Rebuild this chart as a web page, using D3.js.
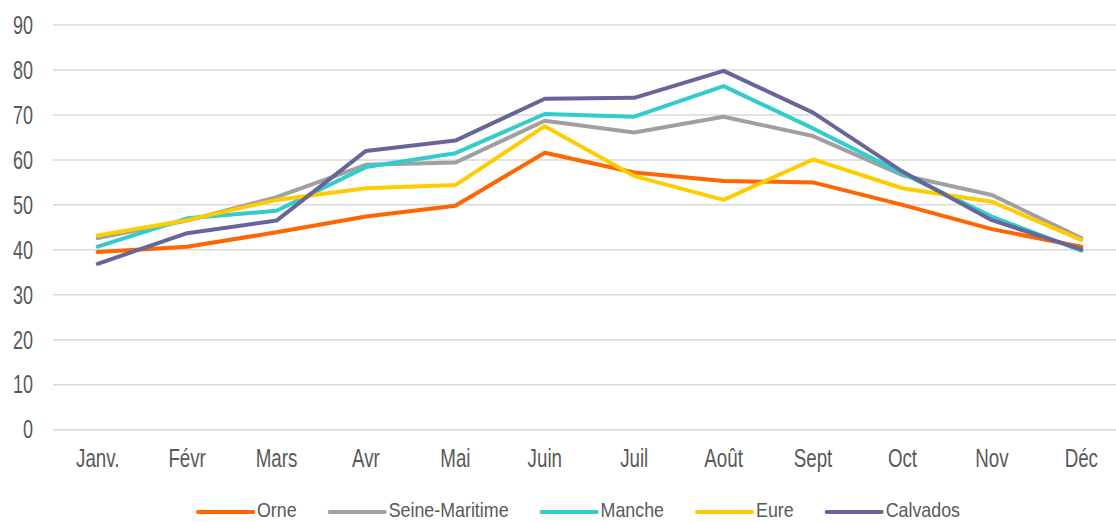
<!DOCTYPE html>
<html>
<head>
<meta charset="utf-8">
<script src="https://cdn.jsdelivr.net/npm/d3@7"></script>
<style>
  body { margin: 0; background: #fff; }
  svg text { font-family: "Liberation Sans Narrow", "Arial Narrow", "Liberation Sans", sans-serif; fill: #595959; }
</style>
</head>
<body>
<div id="chart"></div>
<script>
// months on the x axis
const months = ["Janv.", "Févr", "Mars", "Avr", "Mai", "Juin", "Juil", "Août", "Sept", "Oct", "Nov", "Déc"];
const yTicks = [0, 10, 20, 30, 40, 50, 60, 70, 80, 90];

// values per département
const orne = [39.5, 40.7, 43.9, 47.4, 49.8, 61.6, 57.2, 55.3, 55.0, 50.0, 44.6, 40.7];
const seineMaritime = [42.6, 46.5, 51.7, 58.9, 59.4, 68.7, 66.1, 69.6, 65.3, 56.6, 52.2, 42.6];
const manche = [40.7, 47.0, 48.7, 58.4, 61.5, 70.2, 69.6, 76.4, 67.0, 57.0, 47.4, 39.8];
const eure = [43.2, 46.6, 51.1, 53.7, 54.4, 67.5, 56.4, 51.1, 60.1, 53.7, 50.7, 42.2];
const calvados = [36.9, 43.7, 46.5, 62.0, 64.3, 73.6, 73.8, 79.8, 70.5, 57.4, 46.6, 40.1];

const seriesNames = ["Orne", "Seine-Maritime", "Manche", "Eure", "Calvados"];
const seriesColors = ["#ff6600", "#a0a0a0", "#33cccc", "#ffcc00", "#666699"];

const series = [orne, seineMaritime, manche, eure, calvados].map((vals, i) => ({
    name: seriesNames[i],
    color: seriesColors[i],
    values: vals
}));

const width = 1116;
const height = 522;

const svg = d3.select("#chart")
    .append("svg")
    .attr("width", width)
    .attr("height", height);

const x = d3.scalePoint()
    .domain(months)
    .range([53, 1126])
    .padding(0.5);

const y = d3.scaleLinear()
    .domain([0, 90])
    .range([429.7, 25]);

// gridlines
svg.append("g")
    .selectAll("line")
    .data(yTicks)
    .enter()
    .append("line")
    .attr("x1", 53)
    .attr("x2", width)
    .attr("y1", d => y(d))
    .attr("y2", d => y(d))
    .attr("stroke", "#d9d9d9")
    .attr("stroke-width", 1.5);

// y labels (narrow look: squeeze horizontally)
svg.append("g")
    .selectAll("text")
    .data(yTicks)
    .enter()
    .append("text")
    .attr("transform", d => `translate(33,${y(d)}) scale(0.72,1)`)
    .attr("dy", "0.35em")
    .attr("text-anchor", "end")
    .attr("font-size", "25px")
    .text(d => d);

// x labels
svg.append("g")
    .selectAll("text")
    .data(months)
    .enter()
    .append("text")
    .attr("transform", d => `translate(${x(d)},467) scale(0.75,1)`)
    .attr("text-anchor", "middle")
    .attr("font-size", "25px")
    .text(d => d);

const line = d3.line()
    .x((d, i) => x(months[i]))
    .y(d => y(d));

svg.append("g")
    .selectAll("path")
    .data(series)
    .enter()
    .append("path")
    .attr("d", d => line(d.values))
    .attr("fill", "none")
    .attr("stroke", d => d.color)
    .attr("stroke-width", 4)
    .attr("stroke-linejoin", "round")
    .attr("stroke-linecap", "round");

// legend
const legend = svg.append("g");
const sx = 0.85;
let lx = 198;
series.forEach(s => {
    legend.append("line")
        .attr("x1", lx)
        .attr("x2", lx + 55)
        .attr("y1", 512)
        .attr("y2", 512)
        .attr("stroke", s.color)
        .attr("stroke-width", 4)
        .attr("stroke-linecap", "round");
    const t = legend.append("text")
        .attr("transform", `translate(${lx + 59},517) scale(${sx},1)`)
        .attr("font-size", "21px")
        .text(s.name);
    lx += 59 + t.node().getComputedTextLength() * sx + 33;
});
</script>
</body>
</html>
